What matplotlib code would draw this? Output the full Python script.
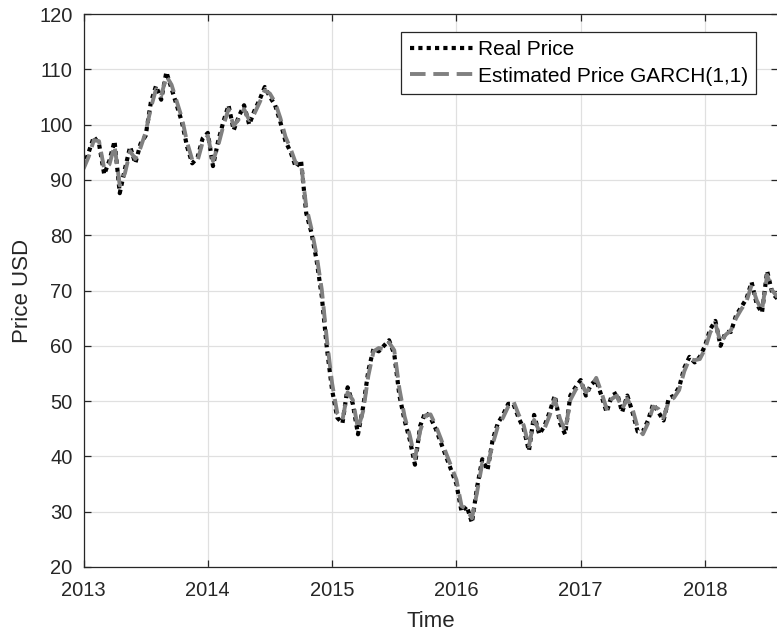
import numpy as np
import matplotlib
matplotlib.use("Agg")
import matplotlib.pyplot as plt

plt.rcParams['font.family'] = ['Liberation Sans', 'DejaVu Sans']

# semi-monthly samples starting Jan 2013
real_price = [
    92.3, 95.0, 97.8, 96.5, 91.0, 93.5, 97.0, 87.6, 92.0, 96.0, 93.0, 96.5,
    98.0, 104.0, 107.0, 104.5, 109.5, 106.5, 103.5, 100.5, 96.0, 93.0, 94.0, 97.5,
    98.5, 92.5, 97.0, 100.5, 103.5, 99.0, 101.5, 103.5, 100.0, 102.5, 104.5, 106.8,
    105.0, 103.5, 100.5, 97.0, 95.0, 92.3, 93.5, 84.0, 80.5, 75.5, 69.0, 59.5,
    52.0, 47.0, 46.0, 52.5, 49.5, 44.0, 49.0, 55.5, 59.5, 59.0, 60.0, 61.0,
    58.5, 51.0, 46.5, 43.0, 38.5, 45.5, 48.0, 47.0, 45.0, 42.5, 40.0, 37.5,
    35.0, 30.0, 31.0, 28.0, 34.5, 39.5, 37.5, 43.0, 46.0, 47.5, 49.5, 49.5,
    47.0, 45.0, 41.0, 47.5, 44.0, 45.5, 48.0, 51.0, 46.0, 44.0, 51.0, 52.5,
    53.8, 51.0, 53.0, 53.8, 51.0, 48.0, 51.0, 51.5, 48.0, 51.0, 48.0, 44.5,
    44.5, 46.5, 49.5, 48.0, 46.5, 50.5, 51.0, 52.5, 56.0, 58.0, 57.0, 58.0,
    60.0, 63.0, 64.5, 60.0, 62.5, 62.5, 65.5, 67.0, 68.5, 71.5, 67.5, 66.0,
    73.5, 69.5, 68.5,
]
est_price = [
    92.0, 94.2, 97.2, 97.0, 92.0, 92.8, 96.2, 89.0, 91.2, 95.2, 93.8, 95.8,
    98.6, 103.0, 106.4, 105.2, 108.8, 107.2, 104.2, 101.2, 96.8, 93.6, 93.4, 96.8,
    98.0, 93.4, 96.2, 99.8, 102.8, 99.8, 101.0, 102.8, 100.8, 102.0, 104.0, 106.2,
    105.6, 104.0, 101.2, 97.8, 95.6, 93.0, 93.0, 85.2, 81.2, 76.4, 70.2, 61.0,
    53.2, 47.8, 46.6, 51.6, 50.2, 45.0, 48.2, 54.6, 59.0, 59.6, 59.4, 60.6,
    59.2, 52.2, 47.2, 43.8, 39.6, 44.6, 47.4, 47.6, 45.6, 43.2, 40.6, 38.2,
    35.8, 31.0, 30.4, 28.8, 33.6, 38.8, 38.2, 42.2, 45.4, 47.0, 49.0, 50.0,
    47.6, 45.6, 41.8, 46.6, 44.6, 45.0, 47.4, 50.4, 46.8, 44.6, 50.2, 52.0,
    53.4, 51.6, 52.6, 54.2, 51.6, 48.6, 50.4, 51.0, 48.6, 50.4, 48.6, 45.2,
    44.0, 46.0, 49.0, 48.6, 47.0, 50.0, 50.6, 52.0, 55.4, 57.6, 57.4, 57.6,
    59.4, 62.4, 64.0, 60.6, 62.0, 62.8, 65.0, 66.6, 68.0, 71.0, 68.2, 66.4,
    72.8, 70.0, 68.8,
]
years = [2013, 2014, 2015, 2016, 2017, 2018]

t = 2013 + np.arange(len(real_price)) / 24.0

fig = plt.figure(figsize=(7.77, 6.31), dpi=100)
ax = fig.add_axes([83.5 / 777, 1 - 567 / 631, (778 - 83.5) / 777, (567 - 14) / 631])

ax.plot(t, real_price, color='black', linestyle=(0, (1, 1)), linewidth=3.0,
        label='Real Price')
ax.plot(t, est_price, color='#808080', linestyle=(0, (4, 2)), linewidth=2.8,
        label='Estimated Price GARCH(1,1)')

ax.set_xlim(2013, 2013 + (778 - 83.5) / 124.3)
ax.set_ylim(20, 120)
ax.set_xticks(years)
ax.set_xticklabels([str(y) for y in years])
ax.set_yticks(np.arange(20, 121, 10))

ax.grid(True, color='#e0e0e0', linewidth=0.9)
ax.set_axisbelow(True)
ax.tick_params(direction='in', length=5, width=0.9, top=True, right=True,
               labelsize=14.5, colors='#262626')
ax.tick_params(axis='x', pad=10)
ax.tick_params(axis='y', pad=8)
for s in ax.spines.values():
    s.set_color('#262626')
    s.set_linewidth(0.9)

ax.set_xlabel('Time', fontsize=16, color='#262626', labelpad=8)
ax.set_ylabel('Price USD', fontsize=16, color='#262626', labelpad=4)

leg = ax.legend(loc='upper right', bbox_to_anchor=((756 - 83.5) / 694.5, (567 - 32) / 553),
                borderaxespad=0, fontsize=15, fancybox=False, framealpha=1,
                edgecolor='#262626', handlelength=3.1, handletextpad=0.15,
                borderpad=0.4, labelspacing=0.35)
leg.get_frame().set_linewidth(0.9)

fig.savefig('out.png', dpi=100)
